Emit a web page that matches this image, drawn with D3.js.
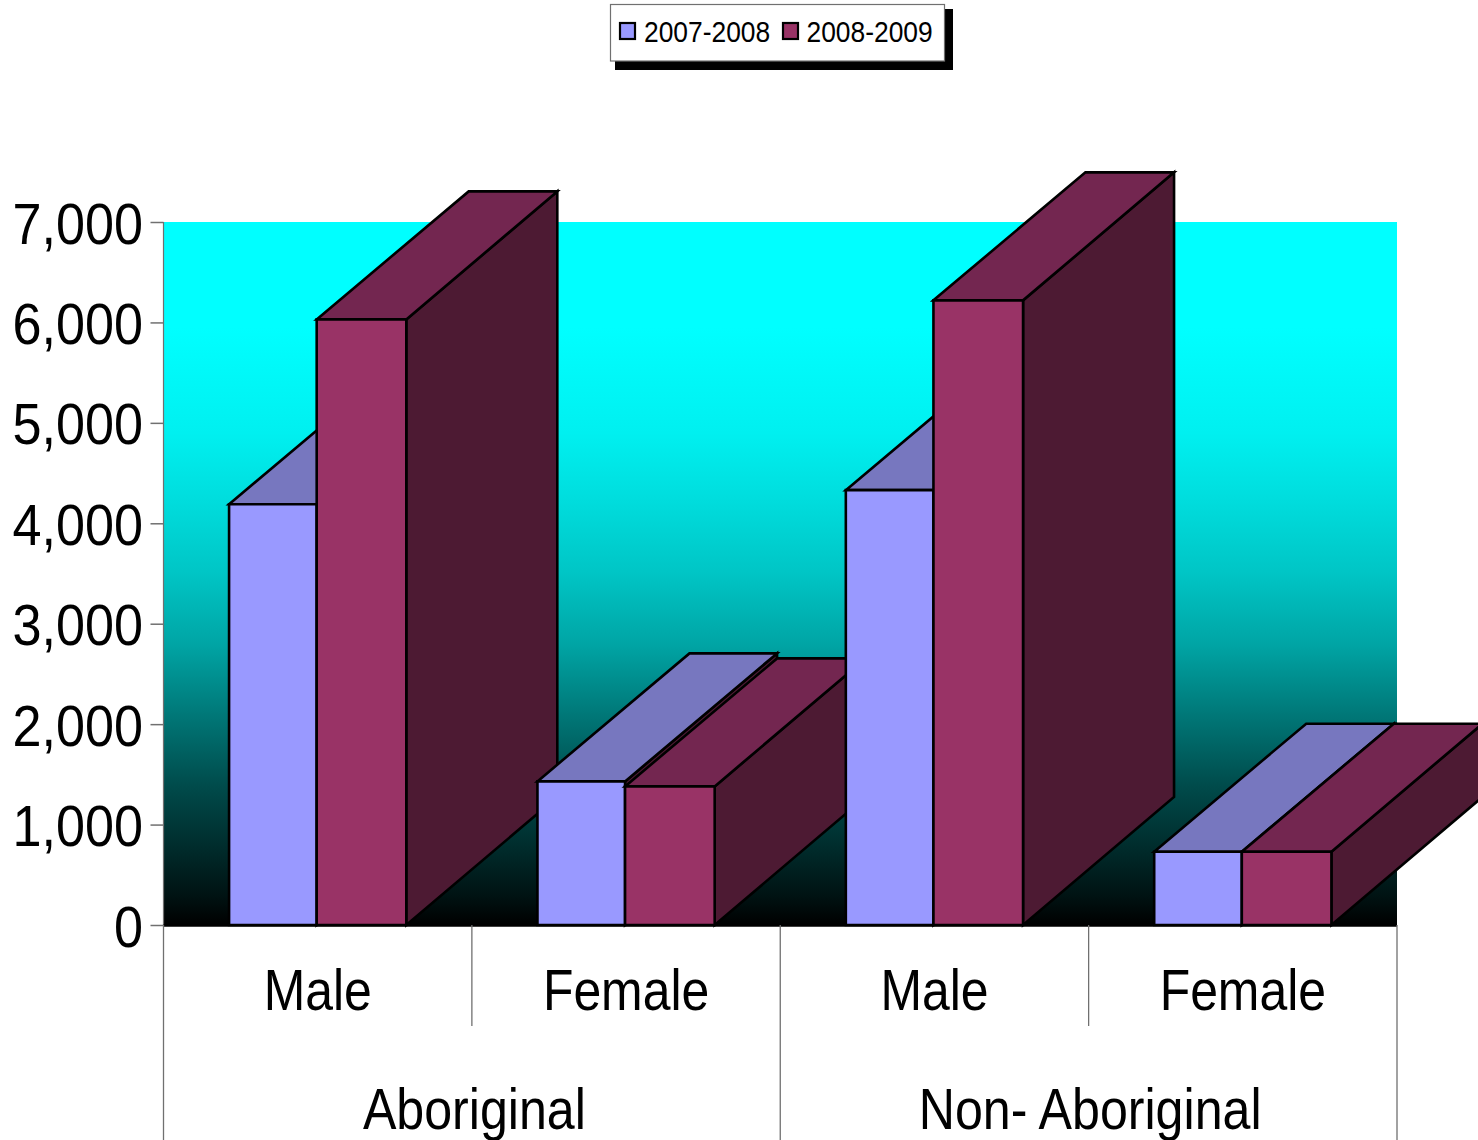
<!DOCTYPE html>
<html><head><meta charset="utf-8">
<script src="https://cdn.jsdelivr.net/npm/d3@7"></script>
<style>html,body{margin:0;padding:0;background:#fff}svg{display:block}text{font-family:"Liberation Sans",Arial,sans-serif;fill:#000}</style>
</head><body><svg id="c" width="1478" height="1140"></svg>
<script>
const groups = ["Aboriginal", "Non- Aboriginal"];
const categories = ["Male", "Female", "Male", "Female"];
const categoryGroup = [0, 0, 1, 1];
const series = ["2007-2008", "2008-2009"];
const values2007 = [4190, 1430, 4330, 730];
const values2008 = [6030, 1380, 6220, 730];
const yTicks = [0, 1000, 2000, 3000, 4000, 5000, 6000, 7000];
const frontColors = ["#9999FF", "#993366"];
const topColors = ["#7777BF", "#732650"];
const sideColors = ["#4D1A33", "#4D1A33"];
const gradStops = [[0, 255], [0.15, 255], [0.3, 240], [0.4, 220], [0.5, 197], [0.6, 165], [0.7, 120], [0.8, 76], [0.9, 40], [0.96, 18], [1, 0]];

const svg = d3.select("#c");
const L = 163.5, R = 1397, T = 222, B = 925, DX = 152, DY = -128;
const y = d3.scaleLinear().domain([0, 7000]).range([B, T]);
const x0 = d3.scaleBand().domain(d3.range(categories.length)).range([L, R]);
const x1 = d3.scaleBand().domain(series).range([0, x0.bandwidth()]).paddingOuter(0.74).paddingInner(0);

const grad = svg.append("defs").append("linearGradient").attr("id", "bg").attr("x1", 0).attr("y1", 0).attr("x2", 0).attr("y2", 1);
grad.selectAll("stop").data(gradStops).join("stop")
  .attr("offset", d => d[0]).attr("stop-color", d => `rgb(0,${d[1]},${d[1]})`);
svg.append("rect").attr("x", L).attr("y", T).attr("width", R - L).attr("height", B - T).attr("fill", "url(#bg)");

function label(g, s, x, yy, size, sx, anchor) {
  return g.append("text").attr("transform", `translate(${x},${yy}) scale(${sx},1)`)
    .attr("font-size", size).attr("text-anchor", anchor || "middle").text(s);
}

const ax = svg.append("g").attr("transform", `translate(${L},0)`)
  .call(d3.axisLeft(y).tickValues(yTicks).tickFormat(d3.format(",")).tickSize(13).tickPadding(0));
ax.select(".domain").attr("stroke", "#707070").attr("stroke-width", 1.2).attr("d", `M0,${T}V${B}`);
ax.selectAll(".tick line").attr("stroke", "#707070").attr("stroke-width", 1.5);
ax.selectAll(".tick text").attr("x", null).attr("y", null).attr("dy", null).attr("font-size", 57).attr("text-anchor", "end")
  .attr("transform", "translate(-20.5,21) scale(0.915,1)");
ax.attr("font-family", null).attr("font-size", null);

svg.append("line").attr("x1", L).attr("x2", R).attr("y1", B + 0.5).attr("y2", B + 0.5).attr("stroke", "#000").attr("stroke-width", 2.5);

const divX = d3.range(categories.length + 1).map(i => i < categories.length ? x0(i) : R);
svg.selectAll("line.div").data(divX).join("line").attr("class", "div")
  .attr("x1", d => d).attr("x2", d => d).attr("y1", B).attr("y2", (d, i) => i % 2 === 0 ? 1140 : 1026)
  .attr("stroke", "#707070").attr("stroke-width", 1.3);

const line = { stroke: "#000", "stroke-width": 2.6, "stroke-linejoin": "miter" };
const poly = (g, pts, fill) => {
  const p = g.append("polygon").attr("points", pts.map(q => q.join(",")).join(" ")).attr("fill", fill);
  Object.entries(line).forEach(([k, v]) => p.attr(k, v));
};
categories.forEach((c, i) => {
  const g = svg.append("g").attr("class", "cat");
  [values2007[i], values2008[i]].forEach((v, j) => {
    // the first bar is drawn a pixel narrower than the second
    const x = x0(i) + x1(series[j]) - j, w = x1.bandwidth() + (j ? 1 : -1), t = y(v);
    poly(g, [[x + w, t], [x + w + DX - j, t + DY], [x + w + DX - j, B + DY], [x + w, B]], sideColors[j]);
    poly(g, [[x, t], [x + DX, t + DY], [x + w + DX - j, t + DY], [x + w, t]], topColors[j]);
    poly(g, [[x, t], [x + w, t], [x + w, B], [x, B]], frontColors[j]);
  });
});

categories.forEach((c, i) => label(svg, c, x0(i) + x0.bandwidth() / 2, 1010, 57, 0.875));
groups.forEach((s, k) => {
  const idx = categoryGroup.map((g, i) => g === k ? i : -1).filter(i => i >= 0);
  const cx = (x0(idx[0]) + x0(idx[idx.length - 1]) + x0.bandwidth()) / 2;
  label(svg, s, cx + 2.5 - k, 1129, 57, 0.88);
});

const lg = svg.append("g");
lg.append("rect").attr("x", 615).attr("y", 9).attr("width", 338).attr("height", 61).attr("fill", "#000");
lg.append("rect").attr("x", 610.5).attr("y", 4.5).attr("width", 334).attr("height", 56.5).attr("fill", "#fff").attr("stroke", "#707070").attr("stroke-width", 1.2);
const swX = [620, 783], txX = [644, 806.5];
series.forEach((s, j) => {
  lg.append("rect").attr("x", swX[j]).attr("y", 23).attr("width", 15).attr("height", 16).attr("fill", frontColors[j]).attr("stroke", "#000").attr("stroke-width", 2.2);
  label(lg, s, txX[j], 42, 29, 0.91, "start");
});
</script></body></html>
